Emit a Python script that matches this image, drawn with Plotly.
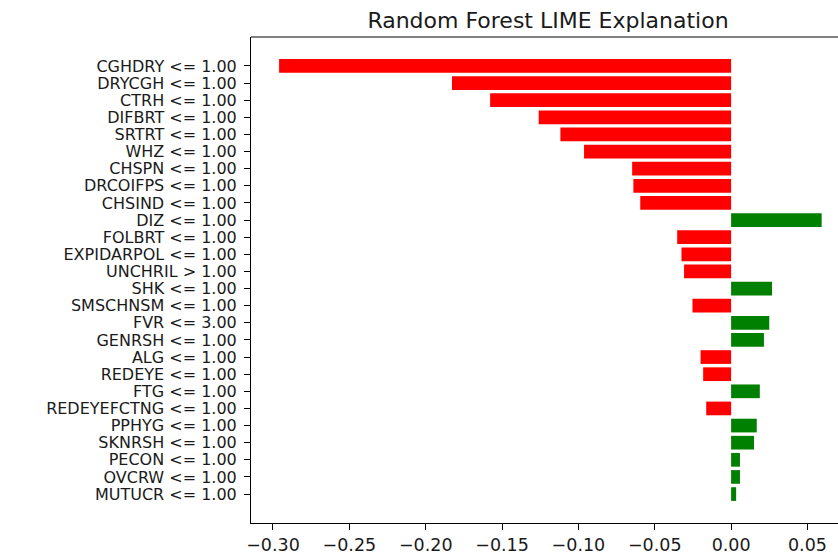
import plotly.graph_objects as go

features = ["CGHDRY <= 1.00", "DRYCGH <= 1.00", "CTRH <= 1.00", "DIFBRT <= 1.00",
            "SRTRT <= 1.00", "WHZ <= 1.00", "CHSPN <= 1.00", "DRCOIFPS <= 1.00",
            "CHSIND <= 1.00", "DIZ <= 1.00", "FOLBRT <= 1.00", "EXPIDARPOL <= 1.00",
            "UNCHRIL > 1.00", "SHK <= 1.00", "SMSCHNSM <= 1.00", "FVR <= 3.00",
            "GENRSH <= 1.00", "ALG <= 1.00", "REDEYE <= 1.00", "FTG <= 1.00",
            "REDEYEFCTNG <= 1.00", "PPHYG <= 1.00", "SKNRSH <= 1.00", "PECON <= 1.00",
            "OVCRW <= 1.00", "MUTUCR <= 1.00"]
weights = [-0.296, -0.1828, -0.1578, -0.126, -0.1118, -0.0963, -0.0648, -0.064,
           -0.0595, 0.0593, -0.0353, -0.0325, -0.0308, 0.0268, -0.0253, 0.025,
           0.0215, -0.02, -0.0183, 0.0188, -0.0163, 0.0168, 0.015, 0.0058,
           0.0058, 0.0033]
x_ticks = [-0.30, -0.25, -0.20, -0.15, -0.10, -0.05, 0.00, 0.05]

positions = list(range(len(features)))
colors = ["#008000" if w > 0 else "#ff0000" for w in weights]

fig = go.Figure(go.Bar(
    x=weights, y=positions, orientation="h", width=0.8,
    marker=dict(color=colors, line=dict(width=0)),
))

font = "DejaVu Sans"
fig.update_layout(
    width=838, height=555,
    margin=dict(l=251, r=0, t=37, b=27),
    plot_bgcolor="white", paper_bgcolor="white",
    showlegend=False,
    title=dict(text="Random Forest LIME Explanation", x=548 / 838, xref="container",
               xanchor="center", y=1 - 20 / 555, yref="container", yanchor="middle",
               font=dict(family=font, size=22, color="#1a1a1a")),
    xaxis=dict(range=[-0.3144, 0.0700], tickvals=x_ticks, tickformat=".2f",
               showgrid=False, zeroline=False, showline=True, linecolor="black",
               linewidth=1, ticks="outside", ticklen=6, tickcolor="black",
               tickfont=dict(family=font, size=17.5, color="#1a1a1a")),
    yaxis=dict(range=[len(features) - 1 + 1.69, -1.69], tickvals=positions,
               ticktext=features, showgrid=False, zeroline=False, showline=True,
               linecolor="black", linewidth=1, ticks="outside", ticklen=6,
               tickcolor="black", ticklabelstandoff=4,
               tickfont=dict(family=font, size=16, color="#1a1a1a")),
    shapes=[dict(type="line", xref="paper", yref="paper", x0=0, x1=1, y0=1, y1=1,
                 line=dict(color="black", width=1))],
)

fig.write_html("out.html")
